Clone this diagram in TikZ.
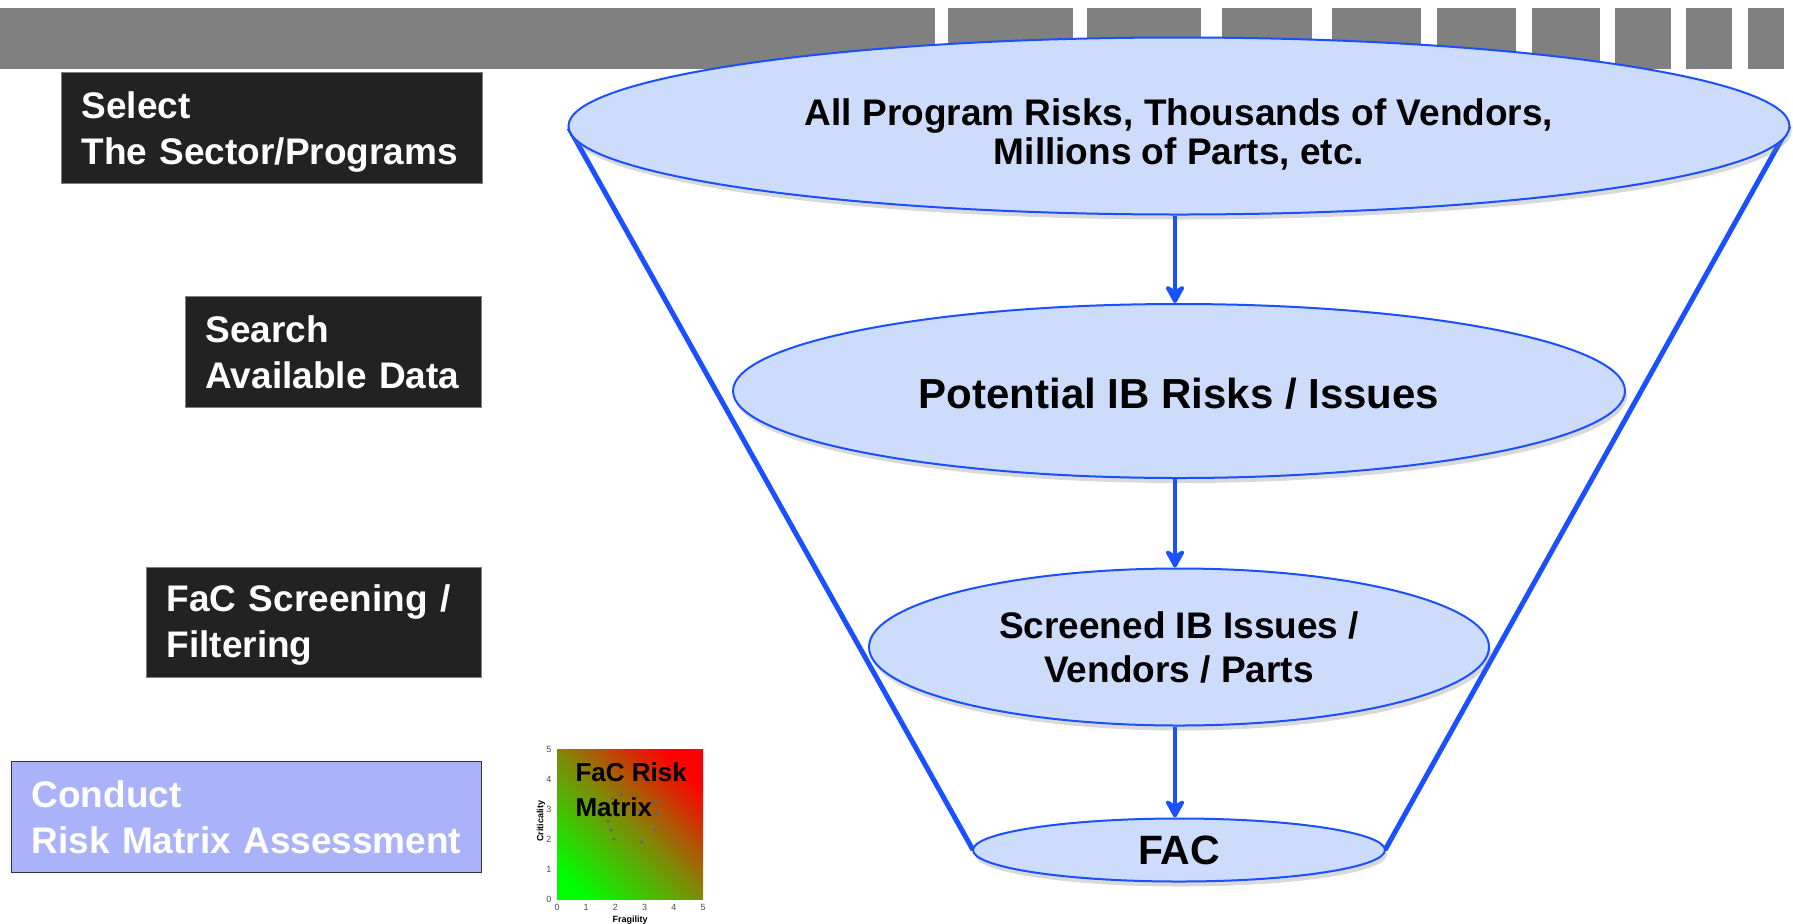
\documentclass[tikz,border=0pt]{standalone}
\usepackage{fontspec}
\setmainfont{Liberation Sans}
\usepackage{xcolor}
\usepackage{tikz}
\usetikzlibrary{shapes.geometric, arrows.meta, shadows}
\definecolor{barre}{HTML}{808080}
\definecolor{bleu}{HTML}{1A50FF}
\definecolor{bleuclair}{HTML}{CEDCFB}
\definecolor{noirbox}{HTML}{222222}
\definecolor{mauve}{HTML}{AAB3FA}
\definecolor{olivemat}{HTML}{7F8A08}
\pgfdeclarehorizontalshading{facshade}{100bp}{color(0bp)=(green); color(22bp)=(green);
  color(50bp)=(olivemat); color(76bp)=(red); color(100bp)=(red)}
\tikzstyle{etape} = [rectangle, anchor=north west,
fill=noirbox, draw=gray, line width=0.6pt,
text=white, align=left,
inner xsep=10pt, inner ysep=0pt,
font=\fontsize{18.5}{23}\selectfont\bfseries]
\tikzstyle{niveau} = [ellipse, draw=bleu, line width=1pt,
fill=bleuclair, inner sep=0pt, align=center,
drop shadow={shadow xshift=1pt, shadow yshift=-2.5pt, opacity=0.3}]
\tikzstyle{arrow} = [line width=2pt, draw=bleu, -{Stealth[length=11pt, width=12pt, round]}]
\tikzstyle{entonnoir} = [line width=2.5pt, draw=bleu]

\begin{document}
\begin{tikzpicture}[x=0.5pt, y=-0.5pt]
\useasboundingbox (0,0) rectangle (1793,923);

% Bandeau gris en haut
\fill[barre] (0,8) rectangle (935,69);
\foreach \a/\b in {948/1073, 1087/1201, 1222/1312, 1332/1421, 1437/1516,
                   1532/1600, 1615/1671, 1686/1732, 1748/1784}
  \fill[barre] (\a,8) rectangle (\b,69);

% Etapes a gauche
\node[etape, text width=190.5pt, minimum height=55.5pt] (select) at (61,72)
  {\rule{0pt}{17.5pt}Select\\The Sector/Programs};
\node[etape, text width=128pt, minimum height=55.5pt] (search) at (185,296)
  {Search\\Available Data};
\node[etape, text width=147.5pt, minimum height=55pt] (screen) at (146,567)
  {\rule{0pt}{16pt}FaC Screening /\\Filtering};
\node[etape, fill=mauve, draw=black!80, text width=215pt, minimum height=55.5pt] (conduct) at (11,761)
  {Conduct\\Risk Matrix Assessment};

% Ellipses de l'entonnoir
\coordinate (c1) at (1179,126);
\coordinate (c2) at (1179,391);
\coordinate (c3) at (1179,647);
\coordinate (c4) at (1179,850);

% Bords de l'entonnoir (sous les ellipses)
\path (c1) ++(-610,2) coordinate (h1g) (c1) ++(610,0) coordinate (h1d);
\path (c4) ++(-206,0) coordinate (b4g) (c4) ++(206,0) coordinate (b4d);
\draw[entonnoir] (h1g) -- (b4g);
\draw[entonnoir] (h1d) -- (b4d);

\node[niveau, minimum width=610.5pt, minimum height=88.5pt,
  font=\fontsize{18.5}{19.5}\selectfont\bfseries] (e1) at (c1)
  {\rule{0pt}{21.5pt}All Program Risks, Thousands of Vendors,\\Millions of Parts, etc.};
\node[niveau, minimum width=446pt, minimum height=87pt,
  font=\fontsize{21}{24}\selectfont\bfseries] (e2) at (c2)
  {\rule{0pt}{18pt}Potential IB Risks / Issues};
\node[niveau, minimum width=310pt, minimum height=78.5pt,
  font=\fontsize{18.5}{22}\selectfont\bfseries] (e3) at (c3)
  {Screened IB Issues /\\Vendors / Parts};
\node[niveau, minimum width=206pt, minimum height=31.5pt,
  font=\fontsize{20.5}{22}\selectfont\bfseries] (e4) at (c4)
  {FAC};

% Fleches
\draw[arrow] ([xshift=-2pt]e1.south) -- ([xshift=-2pt]e2.north);
\draw[arrow] ([xshift=-2pt]e2.south) -- ([xshift=-2pt]e3.north);
\draw[arrow] ([xshift=-2pt]e3.south) -- ([xshift=-2pt]e4.north);

% Petite matrice FaC
\begin{scope}[shift={(557,899)}, x=14.6pt, y=15pt]
\shade[shading=facshade, shading angle=45] (0,0) rectangle (5,5);
\foreach \px/\py in {2.2/3.5, 1.9/3.35, 1.85/2.8, 1.75/2.6, 1.85/2.3, 1.95/2.0,
                     2.8/2.95, 2.9/1.9, 3.3/3.25, 3.5/3.3, 3.4/2.85, 3.45/2.9, 3.35/2.3}
  \fill[black!60] (\px,\py) circle (0.9pt);
\foreach \v in {0,...,5} {
  \node[font=\fontsize{4.5}{5}\selectfont, text=black!70] (tx\v) at (\v,-0.28) {\v};
  \node[font=\fontsize{4.5}{5}\selectfont, text=black!70] (ty\v) at (-0.28,\v) {\v};
}
\node[font=\fontsize{4.5}{5}\selectfont\bfseries, rotate=90] (crit) at (-0.55,2.6) {Criticality};
\node[font=\fontsize{4.5}{5}\selectfont\bfseries] (frag) at (2.5,-0.7) {Fragility};
\node[font=\fontsize{13}{17.5}\selectfont\bfseries, align=left, anchor=west, inner sep=0pt]
  (titre) at (0.62,3.65) {FaC Risk\\Matrix};
\end{scope}

\end{tikzpicture}
\end{document}
